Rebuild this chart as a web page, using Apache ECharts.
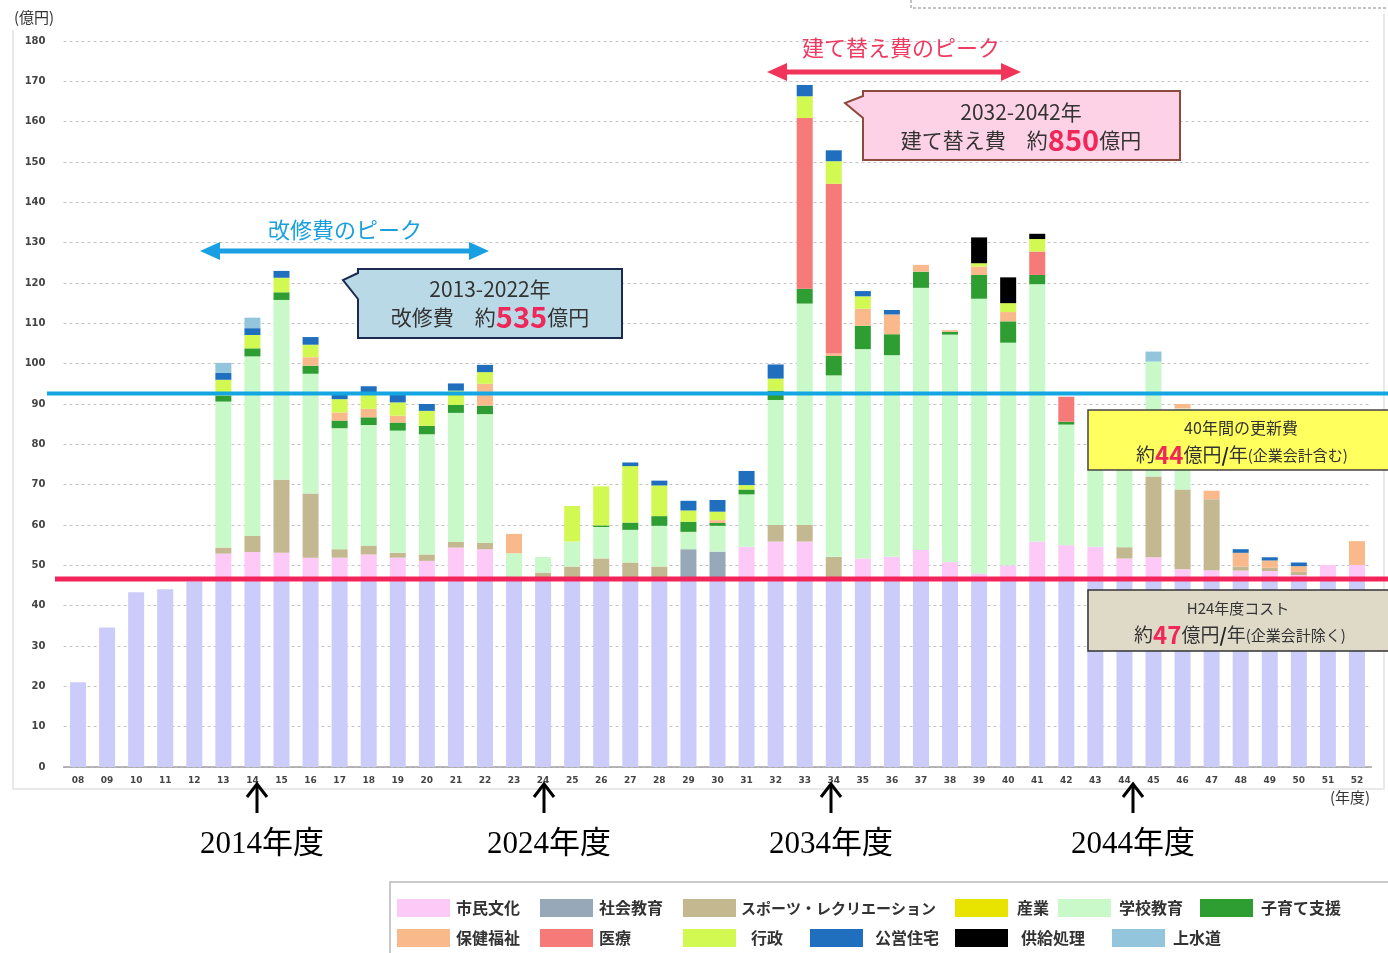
<!DOCTYPE html>
<html><head><meta charset="utf-8">
<script src="https://cdn.jsdelivr.net/npm/echarts@6/dist/echarts.min.js"></script>
<style>html,body{margin:0;padding:0;background:#fff}#c{width:1388px;height:953px}</style>
</head><body><div id="c"></div><script>
// ---- data (億円), fiscal years 2008-2052 ----
const years = ['08','09','10','11','12','13','14','15','16','17','18','19','20','21','22','23','24','25','26','27','28','29','30','31','32','33','34','35','36','37','38','39','40','41','42','43','44','45','46','47','48','49','50','51','52'];
const baseCost = [21,34.6,43.3,44.1,46, 47,47,47,47,47, 47,47,47,47,47, 47,47,47,47,47, 47,47,47,47,47, 47,47,47,47,47, 47,47,47,47,47, 47,47,47,47,47, 47,47,47,47,47];
const shiminBunka = [0,0,0,0,0, 5.9,6.3,6.1,4.9,4.9, 5.7,4.9,4.1,7.4,7.0, 0,0,0,0,0, 0,0,0,7.6,8.9, 8.9,0,4.7,5.1,6.8, 3.8,1.0,3.0,8.9,8.0, 7.6,4.7,5.0,2.0,1.8, 1.7,1.6,0.6,3.1,3.1];
const shakaiKyoiku = [0,0,0,0,0, 0,0,0,0,0, 0,0,0,0,0, 0,0,0,0,0, 0,7.0,6.4,0,0, 0,0,0,0,0, 0,0,0,0,0, 0,0,0,0,0, 0,0,0,0,0];
const sports = [0,0,0,0,0, 1.5,4.0,18.1,15.9,2.1, 2.1,1.2,1.6,1.4,1.6, 0,1.2,2.7,4.7,3.7, 2.7,0,0,0,4.1, 4.1,5.1,0,0,0, 0,0,0,0,0, 0,2.8,20.0,19.8,17.6, 1.0,0.8,0.8,0,0];
const sangyo = [0,0,0,0,0, 0,0,0,0,0, 0,0,0,0,0, 0,0,0,0,0, 0,0,0,0,0, 0,0,0,0,0, 0,0,0,0,0, 0,0,0,0,0, 0,0,0,0,0];
const gakkoKyoiku = [0,0,0,0,0, 36.2,44.5,44.6,29.7,30.0, 30.0,30.3,29.8,32.0,31.9, 6.0,3.9,6.2,7.8,8.1, 10.1,4.3,6.4,13.0,31.0, 54.9,45.0,51.9,50.0,65.0, 56.4,68.1,55.2,63.8,29.9, 27.4,25.5,28.5,20.1,0, 0,0,0,0,0];
const kosodate = [0,0,0,0,0, 1.5,2.0,1.9,2.0,1.9, 1.9,2.0,2.1,2.0,2.1, 0,0,0,0.4,1.8, 2.4,2.5,0.7,1.2,2.3, 3.7,4.8,5.8,5.2,4.0, 0.7,5.9,5.3,2.3,0.7, 0,0,0,0,0, 0,0,0,0,0];
const hokenFukushi = [0,0,0,0,0, 0,0,0,2.1,2.0, 2.1,1.7,0,0,5.4, 4.8,0,0,0,0, 0,0,0.7,0,0, 0,0.6,4.2,4.9,1.7, 0.4,2.1,2.3,0,0, 0,0,0,1.1,2.1, 3.4,1.8,1.4,0,5.9];
const iryo = [0,0,0,0,0, 0,0,0,0,0, 0,0,0,0,0, 0,0,0,0,0, 0,0,0,0,0, 42.3,42.1,0,0,0, 0,0,0,5.8,6.2, 0,0,0,0,0, 0,0,0,0,0];
const gyosei = [0,0,0,0,0, 3.9,3.3,3.6,3.1,3.3, 4.1,3.3,3.7,3.5,2.9, 0,0,8.8,9.7,14.0, 7.6,2.8,2.1,1.1,3.0, 5.4,5.6,3.1,0,0, 0,0.8,2.2,3.1,0, 0,0,0,0,0, 0,0,0,0,0];
const koeiJutaku = [0,0,0,0,0, 1.7,1.7,1.7,1.9,1.3, 1.5,2.1,1.7,1.8,1.8, 0,0,0,0,0.9, 1.2,2.4,2.9,3.5,3.5, 2.8,2.7,1.3,1.1,0, 0,0,0,0,0, 0,0,0,0,0, 0.9,0.8,0.9,0,0];
const kyokyuShori = [0,0,0,0,0, 0,0,0,0,0, 0,0,0,0,0, 0,0,0,0,0, 0,0,0,0,0, 0,0,0,0,0, 0,6.4,6.4,1.3,0, 0,0,0,0,0, 0,0,0,0,0];
const josuido = [0,0,0,0,0, 2.5,2.6,0,0,0, 0,0,0,0,0, 0,0,0,0,0, 0,0,0,0,0, 0,0,0,0,0, 0,0,0,0,0, 0,0,2.5,0,0, 0,0,0,0,0];
const renewalAvgLine = 92.6;   // 更新費平均ライン
const currentCostLine = 46.6;  // H24年度コスト

const seriesDefs = [
  ['基礎', baseCost, '#ccccfb'],
  ['市民文化', shiminBunka, '#fdc9f6'],
  ['社会教育', shakaiKyoiku, '#97a8b9'],
  ['スポーツ・レクリエーション', sports, '#c3b890'],
  ['産業', sangyo, '#e8e400'],
  ['学校教育', gakkoKyoiku, '#c9f8c9'],
  ['子育て支援', kosodate, '#2f9e32'],
  ['保健福祉', hokenFukushi, '#f9b98a'],
  ['医療', iryo, '#f67a78'],
  ['行政', gyosei, '#d2f852'],
  ['公営住宅', koeiJutaku, '#1f6fbe'],
  ['供給処理', kyokyuShori, '#000000'],
  ['上水道', josuido, '#93c6dd']
];

const FONT = "'Noto Sans CJK JP', sans-serif";
const chart = echarts.init(document.getElementById('c'), null, {renderer: 'canvas'});

const legendLayout = [
  ['市民文化',397,899,1,16], ['社会教育',540,899,1,16], ['スポーツ・レクリエーション',683,899,0,15],
  ['産業',955,899,4,16], ['学校教育',1058,899,3,16], ['子育て支援',1200,899,3,16],
  ['保健福祉',397,929,1,16], ['医療',540,929,1,16], ['行政',683,929,10,16],
  ['公営住宅',810,929,7,16], ['供給処理',955,929,8,16], ['上水道',1112,929,3,16]
];

const option = {
  animation: false,
  textStyle: {fontFamily: FONT},
  grid: {left: 63.5, right: 16.5, top: 41, bottom: 186},
  xAxis: {
    type: 'category', data: years,
    axisLine: {lineStyle: {color: '#a0a0a0', width: 1.5}},
    axisTick: {show: false},
    axisLabel: {fontSize: 9, fontWeight: 'bold', color: '#444', fontFamily: 'DejaVu Sans', margin: 9, interval: 0}
  },
  yAxis: {
    type: 'value', min: 0, max: 180, interval: 10,
    axisLine: {show: false}, axisTick: {show: false},
    axisLabel: {fontSize: 10, fontWeight: 'bold', color: '#444', fontFamily: 'DejaVu Sans', margin: 18},
    splitLine: {lineStyle: {color: '#c4c4c4', type: [3, 3]}}
  },
  legend: legendLayout.map(([n, l, t, pad, fs]) => ({
    data: [n], left: l, top: t, padding: 0, icon: 'rect', itemWidth: 53, itemHeight: 18,
    selectedMode: false,
    textStyle: {fontSize: fs, fontWeight: 'bold', color: '#333', fontFamily: FONT, padding: [0, 0, 0, pad]}
  })),
  series: seriesDefs.map(([name, data, color]) => ({
    name, type: 'bar', stack: 'total', data, barWidth: 16,
    itemStyle: {color}, emphasis: {disabled: true}
  }))
};
chart.setOption(option);

const yBlue = chart.convertToPixel({yAxisIndex: 0}, renewalAvgLine);
const yRed = chart.convertToPixel({yAxisIndex: 0}, currentCostLine);

function dblArrow(x1, x2, y, color) {
  return [
    {type: 'line', z: 30, shape: {x1: x1 + 14, y1: y, x2: x2 - 14, y2: y}, style: {stroke: color, lineWidth: 5}},
    {type: 'polygon', z: 30, shape: {points: [[x1, y], [x1 + 20, y - 9], [x1 + 20, y + 9]]}, style: {fill: color}},
    {type: 'polygon', z: 30, shape: {points: [[x2, y], [x2 - 20, y - 9], [x2 - 20, y + 9]]}, style: {fill: color}}
  ];
}
function upArrow(x) {
  return [
    {type: 'line', z: 30, shape: {x1: x, y1: 813, x2: x, y2: 786}, style: {stroke: '#000', lineWidth: 3}},
    {type: 'polyline', z: 30, shape: {points: [[x - 10, 797], [x, 784], [x + 10, 797]]}, style: {stroke: '#000', lineWidth: 3, fill: null}}
  ];
}
function yearLabel(x, t) {
  return {type: 'text', z: 30, style: {text: t, x, y: 845, align: 'center', verticalAlign: 'middle',
    fontSize: 31, fontFamily: "'Liberation Serif', 'Noto Sans CJK JP', serif", fill: '#000'}};
}

const graphics = [
  // frame
  {type: 'polyline', z: 0, shape: {points: [[13, 30], [13, 789], [1384, 789], [1384, 14]]}, style: {stroke: '#e2e2e2', lineWidth: 1.5, fill: null}},
  {type: 'polyline', z: 0, shape: {points: [[911, 0], [911, 8], [1388, 8]]}, style: {stroke: '#888', lineWidth: 1, lineDash: [3, 2], fill: null}},
  {type: 'text', style: {text: '(億円)', x: 14, y: 17, verticalAlign: 'middle', fontSize: 15, fill: '#333', fontFamily: FONT}},
  {type: 'text', style: {text: '(年度)', x: 1330, y: 797, verticalAlign: 'middle', fontSize: 15, fill: '#333', fontFamily: FONT}},
  // reference lines
  {type: 'line', z: 20, shape: {x1: 47, y1: yBlue, x2: 1388, y2: yBlue}, style: {stroke: '#14a6e2', lineWidth: 4}},
  {type: 'line', z: 20, shape: {x1: 55, y1: yRed, x2: 1388, y2: yRed}, style: {stroke: '#f2245a', lineWidth: 5}},
  // peak annotations
  {type: 'text', z: 30, style: {text: '改修費のピーク', x: 345, y: 230, align: 'center', verticalAlign: 'middle', fontSize: 22, fill: '#1aa0dc', fontFamily: FONT}},
  ...dblArrow(200, 489, 251, '#1aa0e2'),
  {type: 'text', z: 30, style: {text: '建て替え費のピーク', x: 901, y: 48, align: 'center', verticalAlign: 'middle', fontSize: 22, fill: '#f03a62', fontFamily: FONT}},
  ...dblArrow(767, 1021, 72, '#f0345a'),
  // callout 1
  {type: 'polygon', z: 40, shape: {points: [[358, 269], [622, 269], [622, 338], [358, 338], [358, 299], [343, 280], [358, 273]]},
    style: {fill: '#b9d9e7', stroke: '#1c2a52', lineWidth: 2}},
  {type: 'text', z: 41, style: {text: '2013-2022年', x: 490, y: 289, align: 'center', verticalAlign: 'middle', fontSize: 21, fill: '#333', fontFamily: FONT}},
  {type: 'text', z: 41, style: {text: '{a|改修費　約}{b|535}{a|億円}', x: 490, y: 317, align: 'center', verticalAlign: 'middle', fontFamily: FONT,
    rich: {a: {fontSize: 21, fill: '#333', fontFamily: FONT}, b: {fontSize: 29, fontWeight: 'bold', fill: '#f0285a', fontFamily: FONT}}}},
  // callout 2
  {type: 'polygon', z: 40, shape: {points: [[863, 91], [1180, 91], [1180, 160], [863, 160], [863, 118], [845, 103], [863, 96]]},
    style: {fill: '#fdd2e6', stroke: '#8c4b3c', lineWidth: 2}},
  {type: 'text', z: 41, style: {text: '2032-2042年', x: 1021, y: 112, align: 'center', verticalAlign: 'middle', fontSize: 21, fill: '#333', fontFamily: FONT}},
  {type: 'text', z: 41, style: {text: '{a|建て替え費　約}{b|850}{a|億円}', x: 1021, y: 140, align: 'center', verticalAlign: 'middle', fontFamily: FONT,
    rich: {a: {fontSize: 21, fill: '#333', fontFamily: FONT}, b: {fontSize: 29, fontWeight: 'bold', fill: '#f0285a', fontFamily: FONT}}}},
  // yellow box
  {type: 'rect', z: 40, shape: {x: 1088, y: 410, width: 310, height: 60}, style: {fill: '#ffff5e', stroke: '#444', lineWidth: 1.5}},
  {type: 'text', z: 41, style: {text: '40年間の更新費', x: 1241, y: 428, align: 'center', verticalAlign: 'middle', fontSize: 16, fill: '#333', fontFamily: FONT}},
  {type: 'text', z: 41, style: {text: '{a|約}{b|44}{a|億円}{c|/}{a|年}{d|(企業会計含む)}', x: 1242, y: 455, align: 'center', verticalAlign: 'middle', fontFamily: FONT,
    rich: {a: {fontSize: 19, fill: '#333', fontFamily: FONT}, b: {fontSize: 24, fontWeight: 'bold', fill: '#f0285a', fontFamily: FONT},
      c: {fontSize: 19, fontWeight: 'bold', fill: '#222', fontFamily: FONT}, d: {fontSize: 15, fill: '#333', fontFamily: FONT}}}},
  // tan box
  {type: 'rect', z: 40, shape: {x: 1088, y: 590, width: 310, height: 61}, style: {fill: '#dfdac8', stroke: '#333', lineWidth: 1.5}},
  {type: 'text', z: 41, style: {text: 'H24年度コスト', x: 1238, y: 608, align: 'center', verticalAlign: 'middle', fontSize: 15, fill: '#333', fontFamily: FONT}},
  {type: 'text', z: 41, style: {text: '{a|約}{b|47}{a|億円}{c|/}{a|年}{d|(企業会計除く)}', x: 1240, y: 635, align: 'center', verticalAlign: 'middle', fontFamily: FONT,
    rich: {a: {fontSize: 19, fill: '#333', fontFamily: FONT}, b: {fontSize: 24, fontWeight: 'bold', fill: '#f0285a', fontFamily: FONT},
      c: {fontSize: 19, fontWeight: 'bold', fill: '#222', fontFamily: FONT}, d: {fontSize: 15, fill: '#333', fontFamily: FONT}}}},
  // year arrows
  ...upArrow(257), ...upArrow(544), ...upArrow(831), ...upArrow(1133),
  yearLabel(262, '2014年度'), yearLabel(549, '2024年度'), yearLabel(831, '2034年度'), yearLabel(1133, '2044年度'),
  // legend frame
  {type: 'rect', z: -1, shape: {x: 390, y: 882, width: 1000, height: 80}, style: {fill: '#fff', stroke: '#b8b8b8', lineWidth: 1.5}}
];
chart.setOption({graphic: graphics});
</script></body></html>
